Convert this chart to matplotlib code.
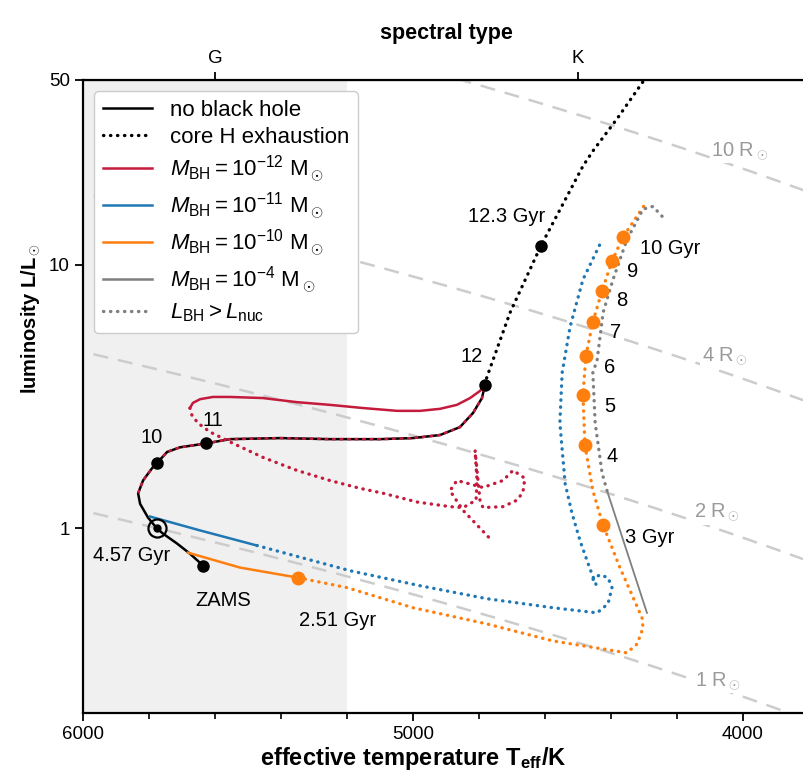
import numpy as np
import matplotlib.pyplot as plt
from matplotlib.lines import Line2D
from matplotlib.ticker import MultipleLocator, NullLocator

plt.rcParams['font.family'] = ['Liberation Sans', 'DejaVu Sans']
plt.rcParams['mathtext.fontset'] = 'custom'
plt.rcParams['mathtext.rm'] = 'Liberation Sans'
plt.rcParams['mathtext.it'] = 'Liberation Sans:italic'
plt.rcParams['mathtext.bf'] = 'Liberation Sans:bold'

# ---- data (Teff in K, L in Lsun) ----
# no black hole track, ZAMS -> 12 Gyr
bh0_T = [5636, 5676, 5715, 5758, 5776, 5803, 5827, 5833, 5818, 5791, 5776, 5745, 5706,
         5627, 5555, 5403, 5252, 5100, 5000, 4918, 4858, 4818, 4791, 4782]
bh0_L = [0.723, 0.803, 0.877, 0.957, 1.00, 1.10, 1.24, 1.36, 1.52, 1.69, 1.77, 1.95, 2.03,
         2.10, 2.18, 2.20, 2.18, 2.18, 2.20, 2.26, 2.42, 2.74, 3.12, 3.50]
# core H exhaustion
coreH_T = [4782, 4776, 4706, 4612, 4485, 4455, 4382, 4297]
coreH_L = [3.50, 3.75, 6.57, 11.8, 23.6, 26.9, 35.6, 50.5]

# M_BH = 1e-12: overlapping part then loop back
bh12_T = [5833, 5818, 5791, 5776, 5745, 5706, 5627, 5555, 5403, 5252, 5100, 5000, 4918,
          4858, 4818, 4791, 4782,
          4797, 4827, 4867, 4918, 4979, 5048, 5152, 5252, 5352, 5455, 5555, 5606, 5645,
          5667, 5676]
bh12_L = [1.36, 1.52, 1.69, 1.77, 1.95, 2.03, 2.10, 2.18, 2.20, 2.18, 2.18, 2.20, 2.26,
          2.42, 2.74, 3.12, 3.50,
          3.32, 3.12, 2.94, 2.84, 2.79, 2.79, 2.86, 2.94, 3.01, 3.12, 3.15, 3.15, 3.09,
          2.99, 2.86]
bh12_split = 16
bh12_dot_T = [5676, 5670, 5652, 5615, 5545, 5455, 5352, 5252, 5161, 5091, 4988, 4888, 4848,
              4809, 4806, 4812, 4803, 4797, 4788, 4727, 4685, 4667, 4661, 4697, 4727,
              4788, 4867, 4888, 4848, 4812, 4767]
bh12_dot_L = [2.86, 2.69, 2.51, 2.32, 2.10, 1.86, 1.66, 1.52, 1.42, 1.36, 1.26, 1.21, 1.20,
              1.28, 1.52, 1.98, 1.52, 1.28, 1.20, 1.21, 1.28, 1.37, 1.55, 1.66, 1.52,
              1.43, 1.52, 1.39, 1.17, 1.05, 0.916]

# M_BH = 1e-11
bh11_T = [5797, 5645, 5473]
bh11_L = [1.11, 0.983, 0.862]
bh11_dot_T = [5473, 5191, 4979, 4776, 4576, 4442, 4409, 4397, 4409, 4433, 4455, 4445,
              4464, 4494, 4518, 4539, 4555, 4548, 4524, 4485, 4427]
bh11_dot_L = [0.862, 0.692, 0.607, 0.542, 0.501, 0.479, 0.519, 0.597, 0.651, 0.668, 0.645,
              0.612, 0.705, 0.900, 1.14, 1.48, 2.51, 3.89, 5.81, 8.77, 12.4]

# M_BH = 1e-10
bh10_T = [5682, 5524, 5348]
bh10_L = [0.810, 0.711, 0.651]
bh10_dot_T = [5348, 5200, 5000, 4776, 4576, 4352, 4321, 4303, 4306, 4342, 4373, 4424,
              4455, 4479, 4485, 4476, 4455, 4427, 4397, 4364, 4297]
bh10_dot_L = [0.651, 0.597, 0.501, 0.435, 0.375, 0.338, 0.365, 0.420, 0.459, 0.581, 0.711,
              1.03, 1.39, 2.07, 3.20, 4.51, 6.07, 7.96, 10.3, 12.7, 16.9]
bh10_age_T = [5348, 4424, 4479, 4485, 4476, 4455, 4427, 4397, 4364]
bh10_age_L = [0.651, 1.03, 2.07, 3.20, 4.51, 6.07, 7.96, 10.3, 12.7]

# M_BH = 1e-4
bh4_T = [4412, 4291]
bh4_L = [1.39, 0.479]
bh4_dot_T = [4412, 4427, 4448, 4455, 4442, 4424, 4394, 4352, 4303, 4273, 4236]
bh4_dot_L = [1.39, 1.62, 2.51, 3.89, 4.35, 6.57, 8.77, 12.4, 16.2, 16.6, 14.8]

# ages on the no-BH track
age_T = [5636, 5776, 5627, 4782, 4612]
age_L = [0.723, 1.77, 2.10, 3.50, 11.8]

radii = [1, 2, 4, 10]
T_sun = 5772
spec_T = [5600, 4500]
spec_lab = ['G', 'K']

red = '#c41a3b'
blue = '#1f77b4'
orange = '#ff7f0e'
grey = '#7f7f7f'
dotted = (0, (0.1, 2.0))

fig = plt.figure(figsize=(8.04, 7.72), dpi=100)
ax = fig.add_axes([83/804, 59/772, 726/804, 633/772])

ax.axvspan(6000, 5200, color='#f0f0f0', zorder=0, lw=0)

# lines of constant radius
T_line = np.linspace(3700, 6100, 200)
for R in radii:
    ax.plot(T_line, R**2 * (T_line/T_sun)**4, color='#cccccc', ls=(0, (6, 4)), lw=1.8, zorder=1)
r_lab_T = [4076, 4079, 4055, 4009]
r_lab_L = [0.264, 1.15, 4.47, 26.9]
for R, t, l in zip(radii, r_lab_T, r_lab_L):
    ax.text(t, l, '%d R$_\\odot$' % R, color='#9a9a9a', fontsize=14.5, ha='center',
            va='center', zorder=2,
            bbox=dict(fc='white', ec='none', pad=1.0))

lw = 1.8
dkw = dict(lw=2.4, ls=dotted, dash_capstyle='round')

ax.plot(bh0_T, bh0_L, color='black', lw=lw, zorder=3)
ax.plot(coreH_T, coreH_L, color='black', zorder=3, **dkw)

ax.plot(bh12_T[:bh12_split+1], bh12_L[:bh12_split+1], color=red, lw=lw,
        ls=(0, (1.5, 1.5)), zorder=4)
ax.plot(bh12_T[bh12_split:], bh12_L[bh12_split:], color=red, lw=lw, zorder=4)
ax.plot(bh12_dot_T, bh12_dot_L, color=red, zorder=4, **dkw)

ax.plot(bh11_T, bh11_L, color=blue, lw=lw, zorder=3)
ax.plot(bh11_dot_T, bh11_dot_L, color=blue, zorder=3, **dkw)

ax.plot(bh10_T, bh10_L, color=orange, lw=lw, zorder=3)
ax.plot(bh10_dot_T, bh10_dot_L, color=orange, zorder=3, **dkw)
ax.plot(bh10_age_T, bh10_age_L, 'o', color=orange, ms=9, zorder=5)

ax.plot(bh4_T, bh4_L, color=grey, lw=1.3, zorder=3)
ax.plot(bh4_dot_T, bh4_dot_L, color=grey, zorder=3, **dkw)

ax.plot(age_T, age_L, 'o', color='black', ms=8, zorder=5)
# the Sun today
ax.plot([5776], [1.0], 'o', mfc='none', mec='black', ms=13, mew=1.6, zorder=5)
ax.plot([5776], [1.0], 'o', color='black', ms=5, zorder=5)

# labels
fs = 14.5
ax.text(5576, 0.532, 'ZAMS', fontsize=fs, ha='center', va='center')
ax.text(5852, 0.79, '4.57 Gyr', fontsize=fs, ha='center', va='center')
ax.text(5791, 2.22, '10', fontsize=fs, ha='center', va='center')
ax.text(5606, 2.57, '11', fontsize=fs, ha='center', va='center')
ax.text(4821, 4.47, '12', fontsize=fs, ha='center', va='center')
ax.text(4715, 15.2, '12.3 Gyr', fontsize=fs, ha='center', va='center')
ax.text(5230, 0.447, '2.51 Gyr', fontsize=fs, ha='center', va='center')
ax.text(4282, 0.924, '3 Gyr', fontsize=fs, ha='center', va='center')
num_T = [4397, 4403, 4403, 4385, 4367, 4333]
num_L = [1.88, 2.89, 4.09, 5.51, 7.30, 9.41]
for i, (t, l) in enumerate(zip(num_T, num_L)):
    ax.text(t, l, str(i + 4), fontsize=fs, ha='center', va='center')
ax.text(4221, 11.5, '10 Gyr', fontsize=fs, ha='center', va='center')

# axes
ax.set_xlim(6000, 3800)
ax.set_yscale('log')
ax.set_ylim(0.2, 50)
ax.set_xticks([6000, 5000, 4000])
ax.set_xticklabels(['6000', '5000', '4000'])
ax.xaxis.set_minor_locator(MultipleLocator(200))
ax.set_yticks([1, 10, 50])
ax.set_yticklabels(['1', '10', '50'])
ax.yaxis.set_minor_locator(NullLocator())
ax.tick_params(which='major', length=6, width=1.3, labelsize=13.5)
ax.tick_params(which='minor', length=4, width=1.2)
for s in ax.spines.values():
    s.set_linewidth(1.6)
ax.set_xlabel('effective temperature T$_{\\mathbf{eff}}$/K', fontsize=17, fontweight='bold')
ax.xaxis.set_label_coords(0.455, -0.05)
ax.set_ylabel('luminosity L/L$_\\odot$', fontsize=14.5, fontweight='bold')
ax.yaxis.set_label_coords(-0.057, 0.624)

sec = ax.secondary_xaxis('top')
sec.set_xticks(spec_T)
sec.set_xticklabels(spec_lab)
sec.tick_params(length=6, width=1.3, labelsize=13.5)
sec.set_xlabel('spectral type', fontsize=15.5, fontweight='bold', labelpad=8)

handles = [
    Line2D([], [], color='black', lw=lw),
    Line2D([], [], color='black', **dkw),
    Line2D([], [], color=red, lw=lw),
    Line2D([], [], color=blue, lw=lw),
    Line2D([], [], color=orange, lw=lw),
    Line2D([], [], color=grey, lw=lw),
    Line2D([], [], color=grey, **dkw),
]
labels = [
    'no black hole',
    'core H exhaustion',
    r'$M_{\rm BH} = 10^{-12}$ M$_\odot$',
    r'$M_{\rm BH} = 10^{-11}$ M$_\odot$',
    r'$M_{\rm BH} = 10^{-10}$ M$_\odot$',
    r'$M_{\rm BH} = 10^{-4}$ M$_\odot$',
    r'$L_{\rm BH} > L_{\rm nuc}$',
]
ax.legend(handles, labels, loc='upper left', fontsize=16, labelspacing=0.25,
          handlelength=2.2, framealpha=1.0)

fig.savefig('out.png', dpi=100)
